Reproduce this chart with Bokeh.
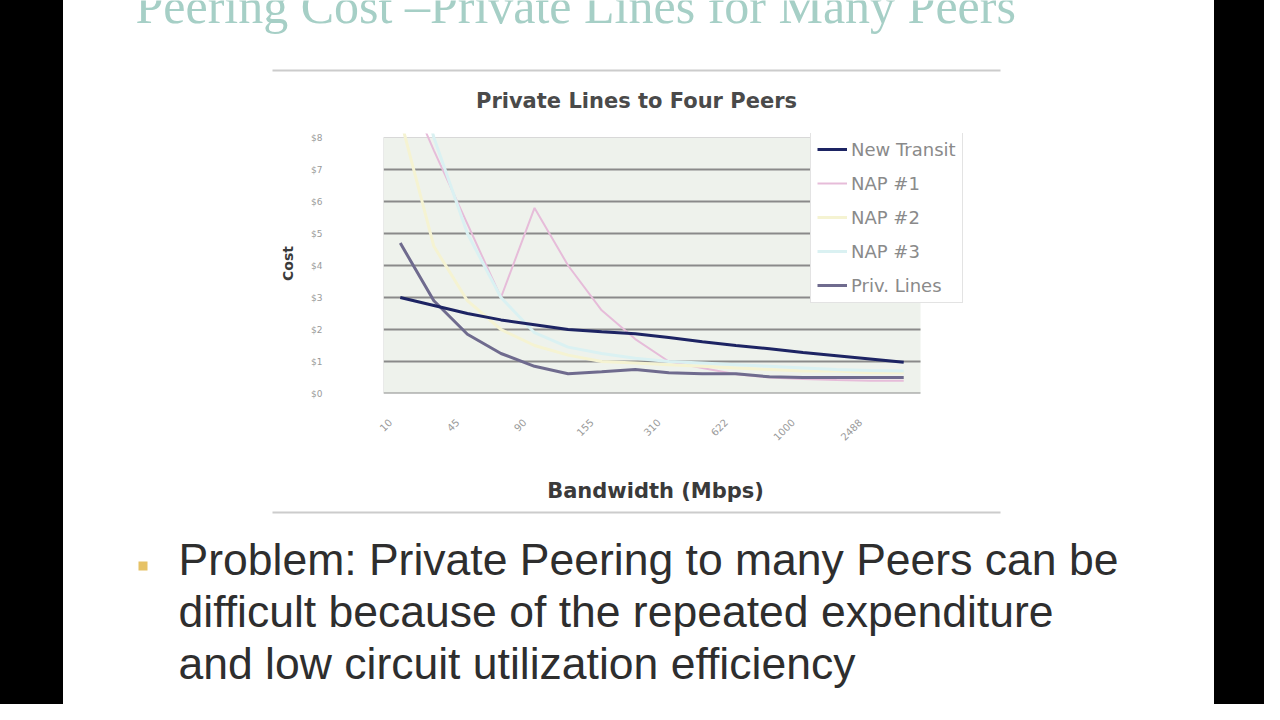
from bokeh.plotting import figure
from bokeh.models import Legend, LegendItem, FixedTicker, Spacer, Range1d
from bokeh.layouts import row, column
from bokeh.core.properties import value
from bokeh.embed import file_html
from bokeh.resources import INLINE

# ---------------- data ----------------
slide_title = "Peering Cost \u2013Private Lines for Many Peers"
chart_title = "Private Lines to Four Peers"
x_title = "Bandwidth (Mbps)"
y_title = "Cost"
bullet_lines = ["Problem: Private Peering to many Peers can be",
                "difficult because of the repeated expenditure",
                "and low circuit utilization efficiency"]

bandwidth = ["10", "20", "45", "60", "90", "120", "155", "200",
             "310", "400", "622", "800", "1000", "1500", "2488", "3000"]
y_tick_labels = ["$0", "$1", "$2", "$3", "$4", "$5", "$6", "$7", "$8"]

new_transit = [3.0, 2.75, 2.5, 2.3, 2.15, 2.0, 1.93, 1.87, 1.75, 1.62, 1.5, 1.4, 1.28, 1.18, 1.08, 0.98]
nap1 = [10.0, 7.6, 5.3, 3.0, 5.8, 4.0, 2.6, 1.7, 1.0, 0.8, 0.6, 0.5, 0.45, 0.42, 0.4, 0.4]
nap2 = [8.6, 4.6, 2.9, 2.0, 1.5, 1.2, 1.0, 0.95, 0.9, 0.85, 0.8, 0.75, 0.7, 0.7, 0.65, 0.65]
nap3 = [12.0, 8.0, 5.0, 3.0, 1.9, 1.45, 1.25, 1.1, 1.0, 0.95, 0.9, 0.85, 0.8, 0.75, 0.72, 0.7]
priv_lines = [4.7, 2.9, 1.85, 1.25, 0.85, 0.62, 0.68, 0.75, 0.65, 0.62, 0.62, 0.52, 0.5, 0.5, 0.5, 0.5]

xs = list(range(len(bandwidth)))
y_ticks = list(range(len(y_tick_labels)))

# ---------------- geometry (pixels) ----------------
LEFT_BAR, SLIDE_W, RIGHT_BAR = 63, 1151, 50
HEADER_H, CHART_H, FOOTER_H = 120, 350, 234
X0 = LEFT_BAR                      # left edge of slide area
PA_L, PA_R, PA_T, PA_B = 383, 920, 137, 393   # plot area
FR_R, FR_T = 990, 133                          # frame extends to hold the legend
BASE_SHIFT = 0.37                              # alphabetic baseline correction (em)
LABEL_SHIFT_PX = 10                            # rotated tick labels sit left of their tick

common = dict(output_backend="svg", toolbar_location=None, frame_align=False)

# ---------------- header ----------------
head = figure(width=SLIDE_W, height=HEADER_H, x_range=Range1d(X0, X0 + SLIDE_W),
              y_range=Range1d(HEADER_H, 0), x_axis_type=None, y_axis_type=None,
              min_border=0, outline_line_color=None, background_fill_color="white",
              border_fill_color="white", **common)
head.text(x=[135], y=[24 - BASE_SHIFT * 50], text=[slide_title], text_font=value("Liberation Serif"),
          text_font_size="50px", text_color="#a6cfc6", text_baseline="alphabetic",
          text_align="left")
head.segment(x0=[272], y0=[70], x1=[1000], y1=[70], line_color="#cccccc", line_width=2)
head.text(x=[636], y=[100], text=[chart_title], text_font=value("DejaVu Sans"),
          text_font_size="21px", text_font_style="bold", text_color="#4a4a4a",
          text_baseline="middle", text_align="center")

# ---------------- chart ----------------
ux = (PA_R - PA_L) / 16.0
uy = (PA_B - PA_T) / 8.0
x_end = 15.5 + (FR_R - PA_R) / ux
y_end = 8 + (PA_T - FR_T) / uy
s = LABEL_SHIFT_PX / ux

p = figure(width=SLIDE_W, height=CHART_H, x_range=Range1d(-0.5, x_end), y_range=Range1d(0, y_end),
           min_border_left=PA_L - X0, min_border_right=X0 + SLIDE_W - FR_R,
           min_border_top=FR_T - HEADER_H, min_border_bottom=HEADER_H + CHART_H - PA_B,
           background_fill_color="white", border_fill_color="white",
           outline_line_color=None, **common)
p.grid.visible = False
p.extra_x_ranges = {"labels": Range1d(-0.5 + s, x_end + s)}

# plot area (Excel-like) and its gridlines
p.quad(left=[-0.5], right=[15.5], bottom=[0], top=[8], fill_color="#eef2ec", line_color=None)
p.segment(x0=[-0.5] * 8, x1=[15.5] * 8, y0=y_ticks[:-1], y1=y_ticks[:-1],
          line_color="#8a8a8a", line_width=2)
p.segment(x0=[-0.5, -0.5], x1=[15.5, -0.5], y0=[8, 0], y1=[8, 8],
          line_color="#d8d8d8", line_width=1)

p.xaxis.x_range_name = "labels"
p.xaxis.ticker = FixedTicker(ticks=xs[::2])
p.xaxis.major_label_overrides = {i: bandwidth[i] for i in xs[::2]}
p.xaxis.major_label_orientation = 0.785
p.xaxis.major_label_text_font = "DejaVu Sans"
p.xaxis.major_label_text_font_size = "10px"
p.xaxis.major_label_text_color = "#9a9a9a"
p.xaxis.major_label_standoff = 21
p.xaxis.major_tick_line_color = None
p.xaxis.minor_tick_line_color = None
p.xaxis.axis_line_color = None

p.yaxis.ticker = FixedTicker(ticks=y_ticks)
p.yaxis.major_label_overrides = {i: y_tick_labels[i] for i in y_ticks}
p.yaxis.major_label_text_font = "DejaVu Sans"
p.yaxis.major_label_text_font_size = "9px"
p.yaxis.major_label_text_color = "#9a9a9a"
p.yaxis.major_label_standoff = 55
p.yaxis.major_tick_line_color = None
p.yaxis.minor_tick_line_color = None
p.yaxis.axis_line_color = None
p.yaxis.axis_label = y_title
p.yaxis.axis_label_text_font = "DejaVu Sans"
p.yaxis.axis_label_text_font_style = "bold"
p.yaxis.axis_label_text_font_size = "14px"
p.yaxis.axis_label_text_color = "#3a3a3a"
p.yaxis.axis_label_standoff = 12

r_n1 = p.line(xs, nap1, line_color="#e6bcd9", line_width=2)
r_n2 = p.line(xs, nap2, line_color="#f5f3d2", line_width=3)
r_n3 = p.line(xs, nap3, line_color="#daf1f2", line_width=3)
r_pl = p.line(xs, priv_lines, line_color="#6f6b8e", line_width=3)
r_nt = p.line(xs, new_transit, line_color="#1d2463", line_width=3)

legend = Legend(items=[LegendItem(label="New Transit", renderers=[r_nt]),
                       LegendItem(label="NAP #1", renderers=[r_n1]),
                       LegendItem(label="NAP #2", renderers=[r_n2]),
                       LegendItem(label="NAP #3", renderers=[r_n3]),
                       LegendItem(label="Priv. Lines", renderers=[r_pl])],
                location=(810 - PA_L, PA_B - 303), orientation="vertical",
                background_fill_color="white", background_fill_alpha=1.0,
                border_line_color="#c8c8c8", border_line_width=1,
                label_text_font="DejaVu Sans", label_text_font_size="18px",
                label_text_color="#8a8a8a",
                glyph_width=30, glyph_height=22, label_height=22, label_standoff=4,
                spacing=12, padding=6, margin=0)
p.add_layout(legend)

# ---------------- footer ----------------
F0 = HEADER_H + CHART_H
foot = figure(width=SLIDE_W, height=FOOTER_H, x_range=Range1d(X0, X0 + SLIDE_W),
              y_range=Range1d(F0 + FOOTER_H, F0), x_axis_type=None, y_axis_type=None,
              min_border=0, outline_line_color=None, background_fill_color="white",
              border_fill_color="white", **common)
foot.text(x=[655], y=[490], text=[x_title], text_font=value("DejaVu Sans"),
          text_font_size="21px", text_font_style="bold", text_color="#3a3a3a",
          text_baseline="middle", text_align="center")
foot.segment(x0=[272], y0=[512], x1=[1000], y1=[512], line_color="#cccccc", line_width=2)
foot.scatter(x=[142.5], y=[565.5], marker="square", size=9, fill_color="#e6c266", line_color=None)
foot.text(x=[178] * 3, y=[b - BASE_SHIFT * 44.5 for b in (575, 627, 679)], text=bullet_lines,
          text_font=value("Liberation Sans"), text_font_size="44.5px", text_color="#2e2e2e",
          text_baseline="alphabetic", text_align="left")

left_bar = Spacer(width=LEFT_BAR, height=HEADER_H + CHART_H + FOOTER_H,
                  styles={"background-color": "#000000"})
right_bar = Spacer(width=RIGHT_BAR, height=HEADER_H + CHART_H + FOOTER_H,
                   styles={"background-color": "#000000"})
page = row(left_bar, column(head, p, foot), right_bar)

open("out.html", "w").write(file_html(page, INLINE))
